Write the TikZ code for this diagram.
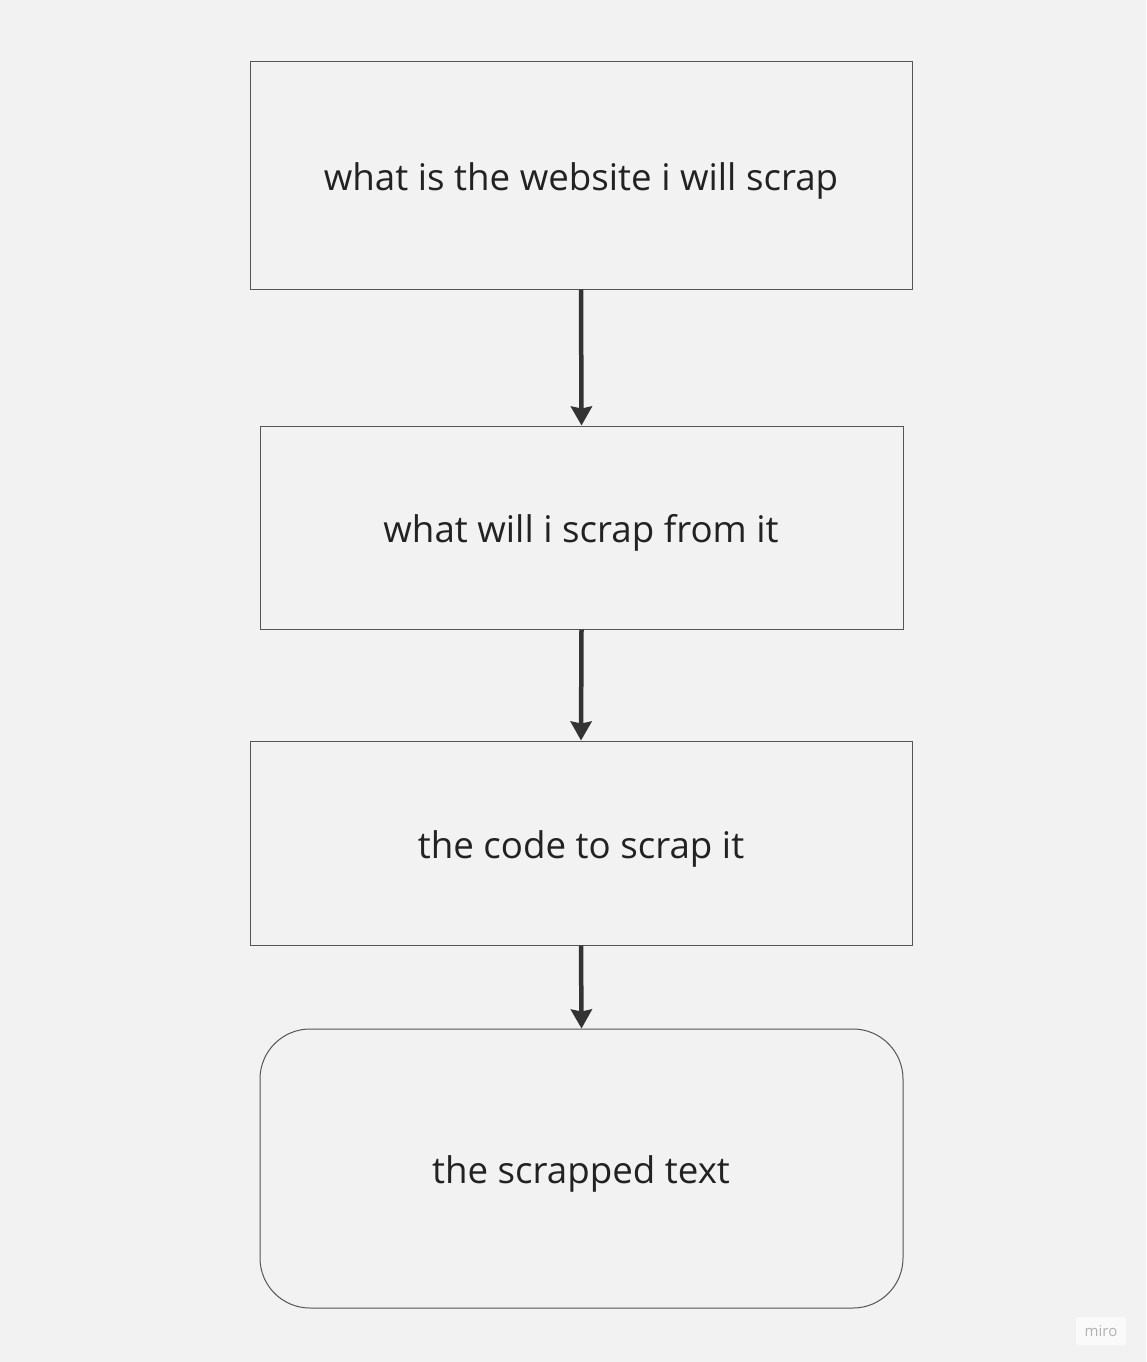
\documentclass[tikz,border=0pt]{standalone}
\usepackage{fontspec}
\setmainfont{Open Sans}
\usetikzlibrary{arrows.meta}
\definecolor{bg}{HTML}{F2F2F2}
\definecolor{edge}{HTML}{555555}
\definecolor{ink}{HTML}{222222}
\definecolor{arr}{HTML}{333333}
\tikzset{
  box/.style={draw=edge, line width=1pt, fill=bg, text=ink, inner sep=0pt},
  label/.style={text=ink, font=\fontsize{36.7}{42}\selectfont},
  conn/.style={draw=arr, line width=4.5pt, -{Stealth[inset=2pt,width=21pt,length=19pt]}},
}
\begin{document}
\begin{tikzpicture}[x=1pt,y=-1pt]
\fill[bg] (0,0) rectangle (1146,1362);
\useasboundingbox (0,0) rectangle (1146,1362);
\node[box, minimum width=662pt, minimum height=227pt] (b1) at (581,175.5) {};
\node[label] (t1) at (581,181) {what is the website i will scrap};
\node[box, minimum width=643pt, minimum height=203pt] (b2) at (581.5,527.5) {};
\node[label] (t2) at (581,533) {what will i scrap from it};
\node[box, minimum width=662pt, minimum height=204pt] (b3) at (581,843) {};
\node[label] (t3) at (581,849) {the code to scrap it};
\node[box, rounded corners=50pt, minimum width=643pt, minimum height=279pt] (b4) at (581.5,1168.5) {};
\node[label] (t4) at (581,1174) {the scrapped text};
\draw[conn] (b1.south) -- (b2.north);
\draw[conn] (b2.south) -- (b3.north);
\draw[conn] (b3.south) -- (b4.north);
\node[fill=white!60!bg, rounded corners=2pt, text=black!30, font=\fontsize{15}{18}\selectfont,
  minimum width=50pt, minimum height=28pt, inner sep=0pt] (miro) at (1101,1331) {miro};
\end{tikzpicture}
\end{document}
